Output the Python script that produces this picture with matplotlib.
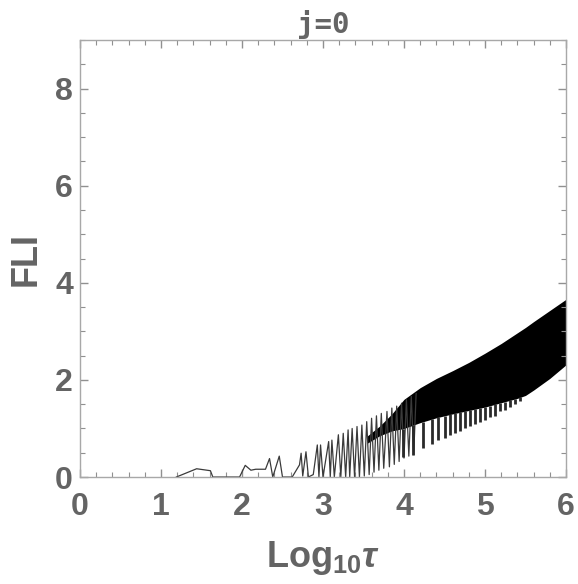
import numpy as np
import matplotlib.pyplot as plt

plt.rcParams['mathtext.fontset'] = 'custom'
plt.rcParams['mathtext.rm'] = 'Liberation Sans:bold'
plt.rcParams['mathtext.it'] = 'Liberation Sans:bold:italic'
plt.rcParams['mathtext.bf'] = 'Liberation Sans:bold'

# FLI trace, sparse part
line_x = [1.19, 1.44, 1.61, 1.64, 1.97, 2.04, 2.11, 2.17, 2.29, 2.34, 2.38, 2.46, 2.50,
          2.62, 2.71, 2.73, 2.75, 2.79, 2.82, 2.88, 2.93, 2.95, 2.97, 3.00, 3.07, 3.09,
          3.11, 3.14, 3.19, 3.22, 3.25, 3.28, 3.31, 3.33, 3.36, 3.39, 3.42, 3.45, 3.48,
          3.51, 3.54, 3.57, 3.60, 3.63, 3.66, 3.69, 3.72, 3.75, 3.79, 3.82, 3.85, 3.88,
          3.91, 3.94, 3.97, 4.00, 4.03, 4.06, 4.09, 4.12, 4.15]
line_y = [0.0, 0.17, 0.13, 0.0, 0.0, 0.24, 0.14, 0.16, 0.16, 0.38, 0.0, 0.43, 0.0,
          0.0, 0.25, 0.49, 0.02, 0.52, 0.0, 0.05, 0.66, 0.0, 0.66, 0.0, 0.73, 0.0,
          0.76, 0.0, 0.87, 0.0, 0.90, 0.0, 0.97, 0.0, 1.00, 0.0, 1.04, 0.0, 1.07,
          0.02, 1.14, 0.05, 1.21, 0.10, 1.26, 0.14, 1.31, 0.18, 1.35, 0.21, 1.42, 0.26,
          1.46, 0.32, 1.52, 0.39, 1.59, 0.43, 1.66, 0.46, 1.72]

# dense oscillation band: upper and lower envelope
band_x = [3.55, 3.70, 3.85, 4.00, 4.20, 4.40, 4.60, 4.80, 5.00, 5.20, 5.40, 5.50, 5.60, 5.80, 6.00]
band_top = [0.85, 1.05, 1.30, 1.60, 1.84, 2.03, 2.19, 2.36, 2.55, 2.75, 2.97, 3.08, 3.20, 3.43, 3.66]
band_bot = [0.70, 0.85, 0.95, 1.00, 1.12, 1.22, 1.30, 1.37, 1.44, 1.53, 1.62, 1.68, 1.79, 2.03, 2.31]

# downward spikes below the band
spike_x = [3.99, 4.11, 4.24, 4.34, 4.42, 4.51, 4.57, 4.63, 4.69, 4.75, 4.81,
           4.88, 4.94, 5.00, 5.06, 5.12, 5.19, 5.25, 5.31, 5.37, 5.43]
spike_tip = [0.42, 0.45, 0.59, 0.69, 0.76, 0.80, 0.87, 0.90, 0.95, 1.00, 1.05,
             1.09, 1.14, 1.17, 1.23, 1.26, 1.35, 1.38, 1.45, 1.50, 1.57]

grey = '#646464'

fig = plt.figure(figsize=(5.78, 5.84), dpi=100)
ax = fig.add_axes([0.1384, 0.1832, 0.8408, 0.7483])

ax.plot(line_x, line_y, color='#3a3a3a', lw=0.9)
ax.fill_between(band_x, band_bot, band_top, color='black', lw=0)
spike_base = np.interp(spike_x, band_x, band_bot)
ax.vlines(spike_x, spike_tip, spike_base, color='#2a2a2a', lw=2.0)

ax.set_xlim(0, 6)
ax.set_ylim(0, 9)
ax.set_xticks(range(0, 7))
ax.set_xticks(np.arange(0, 6.01, 0.2), minor=True)
ax.set_yticks([0, 2, 4, 6, 8])
ax.set_yticks(np.arange(0, 9.01, 0.5), minor=True)

for s in ax.spines.values():
    s.set_color('#a8a8a8')
    s.set_linewidth(1.0)
ax.tick_params(which='both', direction='in', top=True, right=True, color='#909090')
ax.tick_params(which='major', length=6, width=1)
ax.tick_params(which='minor', length=3.5, width=0.8)
ax.tick_params(axis='x', which='major', pad=11)
ax.tick_params(axis='y', which='major', pad=5)
for lab in ax.get_xticklabels() + ax.get_yticklabels():
    lab.set_family('Liberation Sans')
    lab.set_fontweight('bold')
    lab.set_fontsize(23)
    lab.set_color(grey)

ax.set_xlabel(r'Log$_{10}$$\tau$', family='Liberation Sans', fontweight='bold',
              fontsize=26, color=grey, labelpad=12)
ax.set_ylabel('FLI', family='Liberation Sans', fontweight='bold',
              fontsize=26, color=grey, labelpad=8)
ax.set_title('j=0', family='DejaVu Sans Mono', fontweight='bold', fontsize=21,
             color=grey, pad=5)

fig.savefig('out.png', dpi=100)
